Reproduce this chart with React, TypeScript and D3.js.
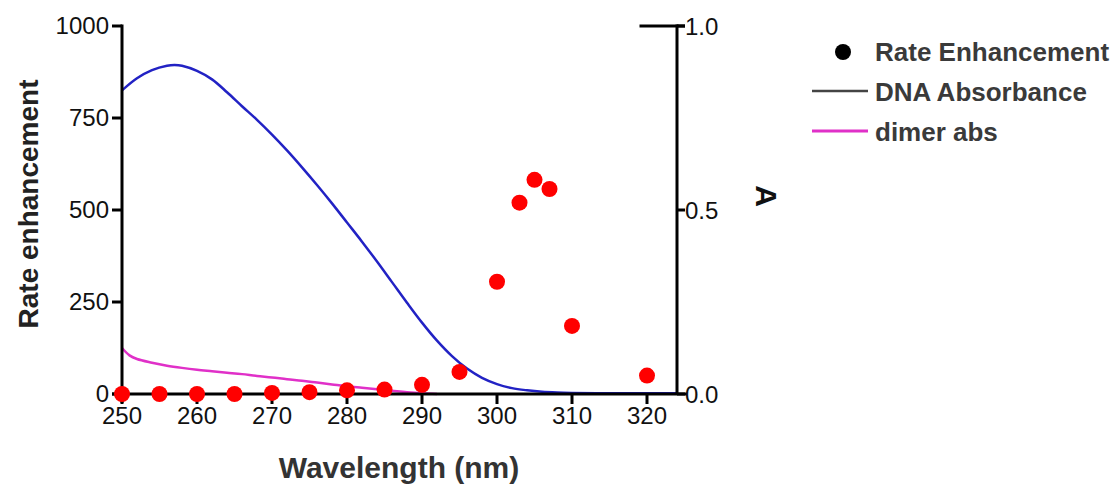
import React from "react";
import * as d3 from "d3";

const rateWl = [250, 255, 260, 265, 270, 275, 280, 285, 290, 295, 300, 303, 305, 307, 310, 320];
const rateVal = [0, 0, 0, 0, 3, 5, 10, 12, 25, 60, 305, 520, 582, 557, 185, 50];

const dnaWl = [250, 252, 254, 256, 257, 258, 260, 262, 264, 266, 268, 270, 272, 274, 276, 278, 280, 282, 284, 286, 288, 290, 292, 294, 296, 298, 300, 302, 304, 306, 308, 310, 315, 320, 324];
const dnaAbs = [0.825, 0.858, 0.88, 0.892, 0.894, 0.892, 0.878, 0.855, 0.82, 0.782, 0.745, 0.705, 0.662, 0.616, 0.568, 0.518, 0.466, 0.414, 0.36, 0.304, 0.248, 0.194, 0.145, 0.103, 0.069, 0.044, 0.027, 0.016, 0.01, 0.006, 0.004, 0.003, 0.002, 0.002, 0.002];

const dimerWl = [250, 251, 252, 254, 256, 258, 260, 262, 264, 266, 268, 270, 272, 274, 276, 278, 280, 282, 284, 286, 288, 290, 292];
const dimerAbs = [0.125, 0.105, 0.095, 0.085, 0.077, 0.071, 0.066, 0.062, 0.058, 0.054, 0.049, 0.045, 0.04, 0.036, 0.031, 0.026, 0.021, 0.017, 0.013, 0.009, 0.005, 0.002, 0];

const xTicks = [250, 260, 270, 280, 290, 300, 310, 320];
const yLeftTicks = [0, 250, 500, 750, 1000];
const yRightTicks = [0, 0.5, 1.0];

const legendLabels = ["Rate Enhancement", "DNA Absorbance", "dimer abs"];

const FONT = "'Liberation Sans', Arial, Helvetica, sans-serif";

export default function App() {
  const x = d3.scaleLinear().domain([250, 324]).range([122, 677]);
  const yL = d3.scaleLinear().domain([0, 1000]).range([394, 26]);
  const yR = d3.scaleLinear().domain([0, 1]).range([394, 26]);

  const line = d3
    .line<[number, number]>()
    .x((d) => x(d[0]))
    .y((d) => yR(d[1]))
    .curve(d3.curveCatmullRom.alpha(0.5));

  const dnaPath = line(dnaWl.map((w, i) => [w, dnaAbs[i]] as [number, number])) || "";
  const dimerPath = line(dimerWl.map((w, i) => [w, dimerAbs[i]] as [number, number])) || "";

  const [x0, x1] = x.range();
  const y0 = yL(0);
  const yTop = yL(1000);

  return (
    <svg
      width={1116}
      height={488}
      style={{ position: "absolute", left: 0, top: 0, background: "#fff" }}
      fontFamily={FONT}
    >
      <rect x={0} y={0} width={1116} height={488} fill="#fff" />
      {/* curves */}
      <path d={dimerPath} fill="none" stroke="#e030c8" strokeWidth={2.5} />
      <path d={dnaPath} fill="none" stroke="#2222c4" strokeWidth={2.5} />

      {/* axes */}
      <line x1={x0} y1={yTop - 1.5} x2={x0} y2={y0 + 9} stroke="#000" strokeWidth={3} />
      <line x1={x0 - 10} y1={y0} x2={x1 + 10} y2={y0} stroke="#000" strokeWidth={3} />
      <line x1={x1} y1={yTop - 1.5} x2={x1} y2={y0} stroke="#000" strokeWidth={3} />
      <line x1={x(319)} y1={yTop} x2={x1 + 8} y2={yTop} stroke="#000" strokeWidth={3} />

      {yLeftTicks.map((t) => (
        <g key={"yl" + t}>
          <line x1={x0 - 10} x2={x0} y1={yL(t)} y2={yL(t)} stroke="#000" strokeWidth={3} />
          <text x={x0 - 13} y={yL(t) + 8} textAnchor="end" fontSize={24} fill="#111">
            {t}
          </text>
        </g>
      ))}
      {yRightTicks.map((t) => (
        <g key={"yr" + t}>
          <line x1={x1} x2={x1 + 8} y1={yR(t)} y2={yR(t)} stroke="#000" strokeWidth={3} />
          <text x={x1 + 8} y={yR(t) + 8.5} textAnchor="start" fontSize={24} fill="#111">
            {t.toFixed(1)}
          </text>
        </g>
      ))}
      {xTicks.map((t) => (
        <g key={"x" + t}>
          <line x1={x(t)} x2={x(t)} y1={y0} y2={y0 + 10} stroke="#000" strokeWidth={3} />
          <text x={x(t)} y={424} textAnchor="middle" fontSize={24} fill="#111">
            {t}
          </text>
        </g>
      ))}

      {/* points */}
      {rateWl.map((w, i) => (
        <circle key={"p" + i} cx={x(w)} cy={yL(rateVal[i])} r={8} fill="#ff0000" />
      ))}

      {/* titles */}
      <text
        transform="translate(38,204) rotate(-90)"
        textAnchor="middle"
        fontSize={28}
        fontWeight="bold"
        fill="#222"
      >
        Rate enhancement
      </text>
      <text x={399} y={478} textAnchor="middle" fontSize={30} fontWeight="bold" fill="#333">
        Wavelength (nm)
      </text>
      <text
        transform="translate(756,196) rotate(90)"
        textAnchor="middle"
        fontSize={30}
        fontWeight="bold"
        fill="#111"
      >
        A
      </text>

      {/* legend */}
      <circle cx={843} cy={52} r={8} fill="#000" />
      <line x1={812} x2={868} y1={91} y2={91} stroke="#444" strokeWidth={2.5} />
      <line x1={812} x2={868} y1={131} y2={131} stroke="#e030c8" strokeWidth={3} />
      {legendLabels.map((l, i) => (
        <text key={l} x={875} y={61 + i * 40} fontSize={26} fontWeight="bold" fill="#3a3a3a">
          {l}
        </text>
      ))}
    </svg>
  );
}
